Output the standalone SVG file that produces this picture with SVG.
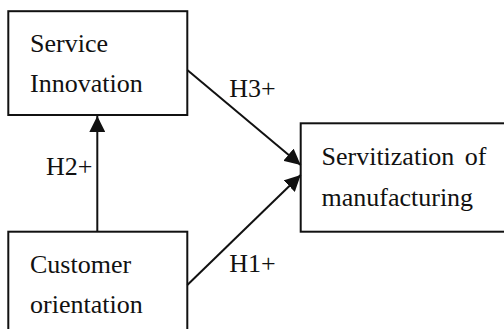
<svg xmlns="http://www.w3.org/2000/svg" width="504" height="329" viewBox="0 0 504 329">
<defs>
<style>
.box{fill:#fff;stroke:#111;stroke-width:2}
.t{font-family:"Liberation Serif","Times New Roman",serif;font-size:26px;fill:#111}
.c{stroke:#111;stroke-width:2;fill:none;marker-end:url(#ah)}
</style>
<marker id="ah" markerUnits="userSpaceOnUse" markerWidth="16" markerHeight="16" refX="16" refY="8" orient="auto" viewBox="0 0 16 16">
<path d="M0,0 L16,8 L0,16 z" fill="#111"/>
</marker>
</defs>
<rect width="504" height="329" fill="#fff"/>
<g id="n-service">
<rect class="box" x="8.3" y="11.2" width="179" height="103.8"/>
<text class="t" x="30" y="52">Service</text>
<text class="t" x="30" y="92">Innovation</text>
</g>
<g id="n-customer">
<rect class="box" x="8.3" y="231.7" width="179" height="120"/>
<text class="t" x="30" y="272.7">Customer</text>
<text class="t" x="30" y="312.7">orientation</text>
</g>
<g id="n-servitization">
<rect class="box" x="300.7" y="123.3" width="220" height="108.4"/>
<text class="t" x="321.5" y="165" word-spacing="4">Servitization of</text>
<text class="t" x="321.5" y="206">manufacturing</text>
</g>
<g id="connectors">
<line class="c" x1="97.3" y1="231.7" x2="97.3" y2="116"/>
<line class="c" x1="187.3" y1="70" x2="300.7" y2="165"/>
<line class="c" x1="187.3" y1="285" x2="300.7" y2="175"/>
<text class="t" x="46" y="175">H2+</text>
<text class="t" x="229.3" y="96.7">H3+</text>
<text class="t" x="229.3" y="271.7">H1+</text>
</g>
</svg>
